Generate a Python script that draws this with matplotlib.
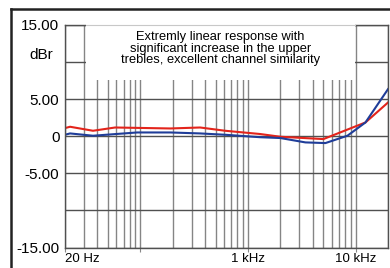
import matplotlib
matplotlib.use("Agg")
import matplotlib.pyplot as plt
from matplotlib.lines import Line2D
from matplotlib.patches import Rectangle
from matplotlib.ticker import LogLocator, NullFormatter

plt.rcParams['font.family'] = ['Liberation Sans', 'DejaVu Sans']

# frequency response (Hz, dBr)
red_freq = [20, 22.3, 36.4, 58.4, 190, 360, 615, 1300, 2000, 5024, 12350, 20000]
red_db = [1.1, 1.28, 0.74, 1.18, 1.05, 1.18, 0.74, 0.3, -0.07, -0.38, 1.86, 4.55]

blue_freq = [20, 22.3, 36.4, 93.5, 190, 360, 615, 1300, 2000, 3420, 5245, 8400, 12350, 20000]
blue_db = [0.2, 0.38, 0.07, 0.51, 0.51, 0.38, 0.2, -0.13, -0.24, -0.83, -0.92, 0.07, 1.86, 6.35]

y_ticks = [-15, -10, -5, 0, 5, 10, 15]
y_labels = ['-15.00', '', '-5.00', '0', '5.00', '', '15.00']
x_ticks = [20, 100, 1000, 10000]
x_labels = ['20 Hz', '', '1 kHz', '10 kHz']

note = "Extremly linear response with\nsignificant increase in the upper\ntrebles, excellent channel similarity"

fig = plt.figure(figsize=(3.9, 2.68), dpi=100)
ax = fig.add_axes([65 / 390, 1 - 247.5 / 268, (388 - 65) / 390, (247.5 - 25) / 268])

ax.set_xscale('log')
ax.set_xlim(20, 20000)
ax.set_ylim(-15, 15)

ax.plot(red_freq, red_db, color='#e3241b', lw=1.5, zorder=2)
ax.plot(blue_freq, blue_db, color='#1f3d99', lw=1.5, zorder=2)

ax.set_yticks(y_ticks)
ax.set_yticklabels(y_labels, fontsize=11)
ax.set_xticks(x_ticks)
ax.set_xticklabels(x_labels, fontsize=9.5)
ax.xaxis.set_minor_locator(LogLocator(base=10, subs=range(2, 10)))
ax.xaxis.set_minor_formatter(NullFormatter())
ax.tick_params(axis='y', length=0, pad=4)
ax.tick_params(axis='x', which='major', length=3, color='#888888', pad=1)
ax.tick_params(axis='x', which='minor', length=0)
ax.get_xticklabels()[0].set_horizontalalignment('left')

ax.set_axisbelow(True)
ax.grid(axis='x', which='both', color='#858585', lw=1)
ax.grid(axis='y', which='major', color='#505050', lw=1)
for s in ax.spines.values():
    s.set_color('#505050')
    s.set_linewidth(1)

# white note box over the top of the grid
ax.add_patch(Rectangle((31.3, 7.6), 9950 - 31.3, 7.8, facecolor='white',
                       edgecolor='none', zorder=3, clip_on=False))
ax.plot([31.3, 9950], [15, 15], color='#c8c8c8', lw=0.8, zorder=4, clip_on=False)
ax.text(553, 11.8, note, ha='center', va='center', fontsize=9.3,
        linespacing=0.92, zorder=5)

fig.text(41 / 390, 1 - 55 / 268, 'dBr', ha='center', va='center', fontsize=11)

# outer frame
fig.add_artist(Line2D([11 / 390, 1], [1 - 9 / 268, 1 - 9 / 268], color='#222222', lw=1.8))
fig.add_artist(Line2D([11 / 390, 11 / 390], [0, 1 - 9 / 268], color='#222222', lw=1.8))

fig.savefig('out.png', dpi=100, facecolor='white')
